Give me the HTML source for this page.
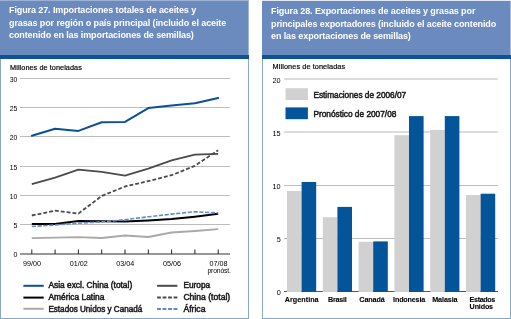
<!DOCTYPE html>
<html><head><meta charset="utf-8"><style>
html,body{margin:0;padding:0;background:#fff;width:511px;height:319px;overflow:hidden;font-family:"Liberation Sans", sans-serif;}
.bd{position:absolute;background:#8aa8bf;}
.hdr{position:absolute;top:0;height:55px;background:#6b8bbf;}
.band{position:absolute;top:55px;height:4px;background:#0b549c;}
.ttl{position:absolute;color:#fff;font-weight:700;font-size:9px;line-height:12.7px;white-space:nowrap;letter-spacing:-0.1px;}
svg{position:absolute;left:0;top:0;font-family:"Liberation Sans", sans-serif;will-change:transform;}
.ttl{will-change:transform;}
</style></head><body>
<div class="hdr" style="left:0;width:249px"></div><div class="band" style="left:0;width:249px"></div>
<div class="bd" style="left:0;top:59px;width:1px;height:260px"></div><div class="bd" style="left:248px;top:59px;width:1px;height:260px"></div><div class="bd" style="left:0;top:318px;width:249px;height:1px"></div>
<div style="position:absolute;left:0;top:0;width:249px;height:1px;background:#9cb1d3"></div><div style="position:absolute;left:248px;top:1px;width:1px;height:54px;background:#9fb5d8"></div>
<div class="ttl" style="left:8.5px;top:4px">Figura 27. Importaciones totales de aceites y<br>grasas por región o país principal (incluido el aceite<br>contenido en las importaciones de semillas)</div>
<div class="hdr" style="left:262px;width:249px"></div><div class="band" style="left:262px;width:249px"></div>
<div class="bd" style="left:262px;top:59px;width:1px;height:260px"></div><div class="bd" style="left:510px;top:59px;width:1px;height:260px"></div><div class="bd" style="left:262px;top:318px;width:249px;height:1px"></div>
<div style="position:absolute;left:262px;top:0;width:249px;height:1px;background:#dfe7f2"></div><div style="position:absolute;left:510px;top:1px;width:1px;height:54px;background:#a8bcd9"></div>
<div class="ttl" style="left:270.5px;top:4.8px">Figura 28. Exportaciones de aceites y grasas por<br>principales exportadores (incluido el aceite contenido<br>en las exportaciones de semillas)</div>
<svg width="511" height="319" viewBox="0 0 511 319" fill="#1a1a1a">
<rect x="20" y="78" width="210" height="1" fill="#bcbcbc"/>
<rect x="20" y="107" width="210" height="1" fill="#bcbcbc"/>
<rect x="20" y="136" width="210" height="1" fill="#bcbcbc"/>
<rect x="20" y="166" width="210" height="1" fill="#bcbcbc"/>
<rect x="20" y="195" width="210" height="1" fill="#bcbcbc"/>
<rect x="20" y="224" width="210" height="1" fill="#bcbcbc"/>
<line x1="20" y1="254" x2="230" y2="254" stroke="#333" stroke-width="1.2"/>
<text x="13.5" y="257.1" font-size="7.8" textLength="3.9" lengthAdjust="spacingAndGlyphs" fill="#000">0</text>
<text x="13.5" y="227.6" font-size="7.8" textLength="3.9" lengthAdjust="spacingAndGlyphs" fill="#000">5</text>
<text x="9.8" y="198.6" font-size="7.8" textLength="7.6" lengthAdjust="spacingAndGlyphs" fill="#000">10</text>
<text x="9.8" y="169.6" font-size="7.8" textLength="7.6" lengthAdjust="spacingAndGlyphs" fill="#000">15</text>
<text x="9.8" y="139.6" font-size="7.8" textLength="7.6" lengthAdjust="spacingAndGlyphs" fill="#000">20</text>
<text x="9.8" y="110.6" font-size="7.8" textLength="7.6" lengthAdjust="spacingAndGlyphs" fill="#000">25</text>
<text x="9.8" y="81.6" font-size="7.8" textLength="7.6" lengthAdjust="spacingAndGlyphs" fill="#000">30</text>
<line x1="31.8" y1="249.5" x2="31.8" y2="254" stroke="#222" stroke-width="1"/>
<line x1="55.1" y1="249.5" x2="55.1" y2="254" stroke="#222" stroke-width="1"/>
<line x1="78.4" y1="249.5" x2="78.4" y2="254" stroke="#222" stroke-width="1"/>
<line x1="101.7" y1="249.5" x2="101.7" y2="254" stroke="#222" stroke-width="1"/>
<line x1="125.0" y1="249.5" x2="125.0" y2="254" stroke="#222" stroke-width="1"/>
<line x1="148.3" y1="249.5" x2="148.3" y2="254" stroke="#222" stroke-width="1"/>
<line x1="171.6" y1="249.5" x2="171.6" y2="254" stroke="#222" stroke-width="1"/>
<line x1="194.9" y1="249.5" x2="194.9" y2="254" stroke="#222" stroke-width="1"/>
<line x1="218.2" y1="249.5" x2="218.2" y2="254" stroke="#222" stroke-width="1"/>
<text x="32.1" y="265.8" text-anchor="middle" font-size="8" textLength="18" lengthAdjust="spacingAndGlyphs" fill="#000">99/00</text>
<text x="78.7" y="265.8" text-anchor="middle" font-size="8" textLength="18" lengthAdjust="spacingAndGlyphs" fill="#000">01/02</text>
<text x="125.3" y="265.8" text-anchor="middle" font-size="8" textLength="18" lengthAdjust="spacingAndGlyphs" fill="#000">03/04</text>
<text x="171.9" y="265.8" text-anchor="middle" font-size="8" textLength="18" lengthAdjust="spacingAndGlyphs" fill="#000">05/06</text>
<text x="218.5" y="265.8" text-anchor="middle" font-size="8" textLength="18" lengthAdjust="spacingAndGlyphs" fill="#000">07/08</text>
<text x="207.5" y="273.4" font-size="6.8" textLength="23.4" lengthAdjust="spacing" fill="#000">pronóst.</text>
<text x="10.1" y="70.3" font-size="7.3" textLength="71.7" lengthAdjust="spacing" stroke="#000" stroke-width="0.18" fill="#000">Millones de toneladas</text>
<polyline points="31.8,238.2 55.1,237.7 78.4,237.1 101.7,238.0 125.0,235.5 148.3,237.0 171.6,232.5 194.9,231.0 218.2,229.2" fill="none" stroke="#a9a9a9" stroke-width="1.8" stroke-linejoin="round"/>
<polyline points="31.8,184.1 55.1,177.7 78.4,169.7 101.7,171.9 125.0,175.6 148.3,168.7 171.6,160.4 194.9,154.7 218.2,153.9" fill="none" stroke="#4b4b4b" stroke-width="1.8" stroke-linejoin="round"/>
<polyline points="31.8,215.5 55.1,210.7 78.4,213.6 101.7,196.0 125.0,186.5 148.3,181.1 171.6,175.2 194.9,165.8 218.2,150.2" fill="none" stroke="#4b4b4b" stroke-width="1.8" stroke-dasharray="3.9 2" stroke-linejoin="round"/>
<polyline points="31.8,224.0 55.1,223.9 78.4,221.1 101.7,221.2 125.0,221.6 148.3,220.4 171.6,219.1 194.9,216.7 218.2,213.8" fill="none" stroke="#000" stroke-width="2" stroke-linejoin="round"/>
<polyline points="31.8,226.5 55.1,225.0 78.4,223.2 101.7,221.9 125.0,219.7 148.3,216.8 171.6,214.1 194.9,211.7 218.2,213.0" fill="none" stroke="#628ccc" stroke-width="1.6" stroke-dasharray="4.2 1.6" stroke-linejoin="round"/>
<polyline points="31.8,135.8 55.1,128.7 78.4,130.9 101.7,122.3 125.0,121.9 148.3,108.1 171.6,105.5 194.9,103.2 218.2,98.1" fill="none" stroke="#0a4f97" stroke-width="2" stroke-linejoin="round" stroke-linecap="round"/>
<line x1="23.4" y1="285.8" x2="43.7" y2="285.8" stroke="#0a4f97" stroke-width="2"/>
<text x="48.4" y="288.2" font-size="8.4" textLength="83.8" lengthAdjust="spacingAndGlyphs" stroke="#1a1a1a" stroke-width="0.5">Asia excl. China (total)</text>
<line x1="23.4" y1="297.6" x2="43.7" y2="297.6" stroke="#000" stroke-width="2"/>
<text x="48.4" y="300.0" font-size="8.4" textLength="56.0" lengthAdjust="spacingAndGlyphs" stroke="#1a1a1a" stroke-width="0.5">América Latina</text>
<line x1="23.4" y1="308.8" x2="43.7" y2="308.8" stroke="#a9a9a9" stroke-width="2"/>
<text x="48.4" y="311.6" font-size="8.4" textLength="93.9" lengthAdjust="spacingAndGlyphs" stroke="#1a1a1a" stroke-width="0.5">Estados Unidos y Canadá</text>
<line x1="157.1" y1="285.8" x2="177.4" y2="285.8" stroke="#4b4b4b" stroke-width="2"/>
<text x="183.4" y="288.1" font-size="8.4" textLength="26.8" lengthAdjust="spacingAndGlyphs" stroke="#1a1a1a" stroke-width="0.5">Europa</text>
<line x1="157.1" y1="297.6" x2="177.4" y2="297.6" stroke="#4b4b4b" stroke-width="2" stroke-dasharray="3.8 1.7"/>
<text x="183.4" y="300.0" font-size="8.4" textLength="46.8" lengthAdjust="spacingAndGlyphs" stroke="#1a1a1a" stroke-width="0.5">China (total)</text>
<line x1="157.1" y1="309.0" x2="177.4" y2="309.0" stroke="#5d87c9" stroke-width="2" stroke-dasharray="3.8 1.7"/>
<text x="183.4" y="311.5" font-size="8.4" textLength="22.1" lengthAdjust="spacingAndGlyphs" stroke="#1a1a1a" stroke-width="0.5">África</text>
<text x="272.6" y="69.4" font-size="7.3" textLength="72.5" lengthAdjust="spacing" stroke="#000" stroke-width="0.18" fill="#000">Millones de toneladas</text>
<rect x="284" y="78" width="214" height="2" fill="#dcdcdc"/>
<rect x="284" y="131" width="214" height="2" fill="#dcdcdc"/>
<rect x="284" y="185" width="214" height="1" fill="#bdbdbd"/>
<rect x="284" y="238" width="214" height="1" fill="#bdbdbd"/>
<text x="280.7" y="295.1" text-anchor="end" font-size="7.3" fill="#000">0</text>
<text x="280.7" y="241.9" text-anchor="end" font-size="7.3" fill="#000">5</text>
<text x="280.7" y="188.8" text-anchor="end" font-size="7.3" fill="#000">10</text>
<text x="280.7" y="135.6" text-anchor="end" font-size="7.3" fill="#000">15</text>
<text x="280.7" y="82.5" text-anchor="end" font-size="7.3" fill="#000">20</text>
<rect x="284" y="291" width="214" height="1" fill="#5a5550"/>
<rect x="287.0" y="191.0" width="14.6" height="101.0" fill="#d1d1d2"/>
<rect x="301.6" y="182.0" width="14.6" height="110.0" fill="#04549a"/>
<rect x="322.8" y="217.2" width="14.6" height="74.8" fill="#d1d1d2"/>
<rect x="337.4" y="206.9" width="14.6" height="85.1" fill="#04549a"/>
<rect x="358.6" y="241.8" width="14.6" height="50.2" fill="#d1d1d2"/>
<rect x="373.2" y="241.4" width="14.6" height="50.6" fill="#04549a"/>
<rect x="394.4" y="135.2" width="14.6" height="156.8" fill="#d1d1d2"/>
<rect x="409.0" y="116.1" width="14.6" height="175.9" fill="#04549a"/>
<rect x="430.2" y="129.9" width="14.6" height="162.1" fill="#d1d1d2"/>
<rect x="444.8" y="116.1" width="14.6" height="175.9" fill="#04549a"/>
<rect x="466.0" y="195.0" width="14.6" height="97.0" fill="#d1d1d2"/>
<rect x="480.6" y="193.7" width="14.6" height="98.3" fill="#04549a"/>
<text x="284.7" y="301.8" font-size="7.2" textLength="33.9" lengthAdjust="spacing" font-weight="700" stroke="#000" stroke-width="0.1" fill="#000">Argentina</text>
<text x="328.1" y="301.8" font-size="7.2" textLength="18.6" lengthAdjust="spacing" font-weight="700" stroke="#000" stroke-width="0.1" fill="#000">Brasil</text>
<text x="359.3" y="301.8" font-size="7.2" textLength="25.5" lengthAdjust="spacing" font-weight="700" stroke="#000" stroke-width="0.1" fill="#000">Canadá</text>
<text x="393.1" y="301.8" font-size="7.2" textLength="32.1" lengthAdjust="spacing" font-weight="700" stroke="#000" stroke-width="0.1" fill="#000">Indonesia</text>
<text x="432.2" y="301.8" font-size="7.2" textLength="25.4" lengthAdjust="spacing" font-weight="700" stroke="#000" stroke-width="0.1" fill="#000">Malasia</text>
<text x="469.6" y="301.8" font-size="7.2" textLength="25.7" lengthAdjust="spacing" font-weight="700" stroke="#000" stroke-width="0.1" fill="#000">Estados</text>
<text x="469.6" y="309.4" font-size="7.2" textLength="23.5" lengthAdjust="spacing" font-weight="700" stroke="#000" stroke-width="0.1" fill="#000">Unidos</text>
<rect x="285.5" y="88.2" width="22.4" height="11.8" fill="#d1d1d2"/>
<rect x="285.5" y="107.4" width="22.4" height="11.8" fill="#04549a"/>
<text x="313.4" y="98.2" font-size="8.6" textLength="92.8" lengthAdjust="spacingAndGlyphs" stroke="#1a1a1a" stroke-width="0.5">Estimaciones de 2006/07</text>
<text x="313.4" y="116.9" font-size="8.6" textLength="83.0" lengthAdjust="spacingAndGlyphs" stroke="#1a1a1a" stroke-width="0.5">Pronóstico de 2007/08</text>
</svg>
</body></html>
